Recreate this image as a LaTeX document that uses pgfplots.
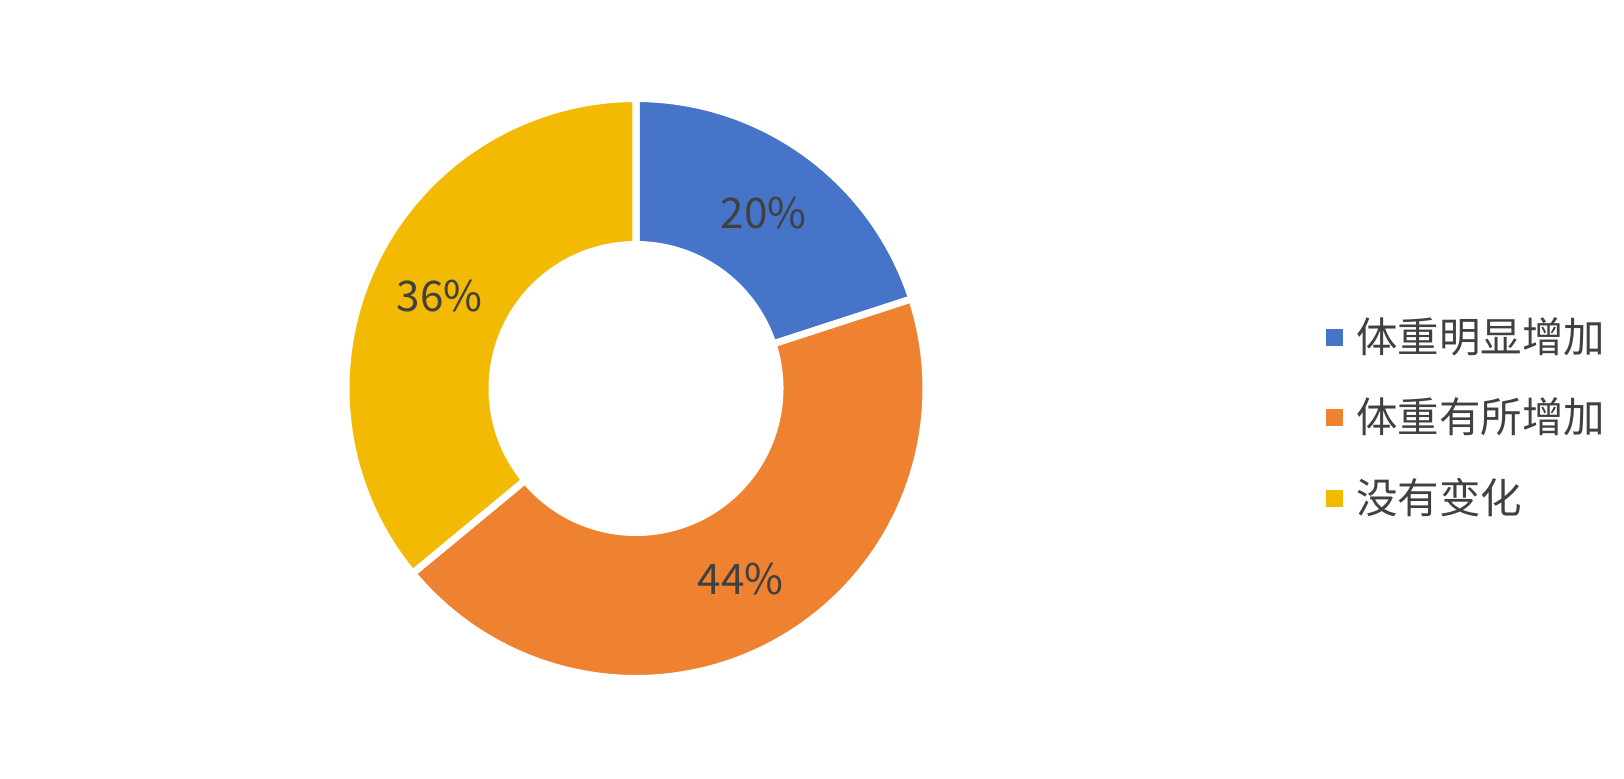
\documentclass[border=0pt]{standalone}
\usepackage{pgfplots}
\pgfplotsset{compat=1.18}
\usepackage{pgfplotstable}
\usepackage{fontspec}
\setmainfont{Noto Sans CJK SC}
\definecolor{cA}{HTML}{4674C9}
\definecolor{cB}{HTML}{EE8230}
\definecolor{cC}{HTML}{F2BA03}
\definecolor{txt}{HTML}{404040}
\def\cx{636}\def\cy{389.5}\def\Rout{290}\def\Rin{144}\def\Rlab{217}
\newcommand{\donutslice}[3]{%
  \addplot[fill=#3, draw=white, line width=2pt, samples at={0,...,202}, variable=\k]
   ({\cx + ifthenelse(\k<=100, \Rout*cos(#1+(#2-#1)*\k/100), ifthenelse(\k<=201, \Rin*cos(#2-(#2-#1)*(\k-101)/100), \Rout*cos(#1)))},
    {\cy + ifthenelse(\k<=100, \Rout*sin(#1+(#2-#1)*\k/100), ifthenelse(\k<=201, \Rin*sin(#2-(#2-#1)*(\k-101)/100), \Rout*sin(#1)))});
}
\begin{document}
\begin{tikzpicture}
\useasboundingbox (0,0) rectangle (16.24cm,7.78cm);
\pgfplotstableread{
value
20
44
36
}\datatable
\pgfplotstablegetelem{0}{value}\of\datatable \let\va\pgfplotsretval
\pgfplotstablegetelem{1}{value}\of\datatable \let\vb\pgfplotsretval
\pgfplotstablegetelem{2}{value}\of\datatable \let\vc\pgfplotsretval
\pgfmathsetmacro\total{\va+\vb+\vc}
\pgfmathsetmacro\aA{90}
\pgfmathsetmacro\aB{\aA-360*\va/\total}
\pgfmathsetmacro\aC{\aB-360*\vb/\total}
\pgfmathsetmacro\aD{\aC-360*\vc/\total}
\pgfmathsetmacro\mA{(\aA+\aB)/2}
\pgfmathsetmacro\mB{(\aB+\aC)/2}
\pgfmathsetmacro\mC{(\aC+\aD)/2}
\begin{axis}[
  at={(0,0)}, anchor=south west, scale only axis,
  width=16.24cm, height=7.78cm,
  xmin=0, xmax=1624, ymin=0, ymax=778,
  hide axis, clip=false,
  legend image code/.code={\fill[#1, draw=none] (0pt,-2.42pt) rectangle (4.84pt,2.42pt);\path[draw=none, fill=none] (0pt,0pt) -- (6.6pt,0pt);},
  legend style={at={(axis cs:1326,360)}, anchor=west, draw=none, fill=none,
    inner sep=0pt, outer sep=0pt, row sep=7.5pt,
    font=\fontsize{11.8}{13}\selectfont, text=txt},
  legend cell align=left,
]
\donutslice{\aA}{\aB}{cA}
\addlegendentry{体重明显增加}
\donutslice{\aB}{\aC}{cB}
\addlegendentry{体重有所增加}
\donutslice{\aC}{\aD}{cC}
\addlegendentry{没有变化}
\node[font=\fontsize{12}{14}\selectfont, text=txt] at (axis cs:{\cx+\Rlab*cos(\mA)},{\cy+\Rlab*sin(\mA)}) {\va\%};
\node[font=\fontsize{12}{14}\selectfont, text=txt] at (axis cs:{\cx+\Rlab*cos(\mB)},{\cy+\Rlab*sin(\mB)}) {\vb\%};
\node[font=\fontsize{12}{14}\selectfont, text=txt] at (axis cs:{\cx+\Rlab*cos(\mC)},{\cy+\Rlab*sin(\mC)}) {\vc\%};
\end{axis}
\end{tikzpicture}
\end{document}
